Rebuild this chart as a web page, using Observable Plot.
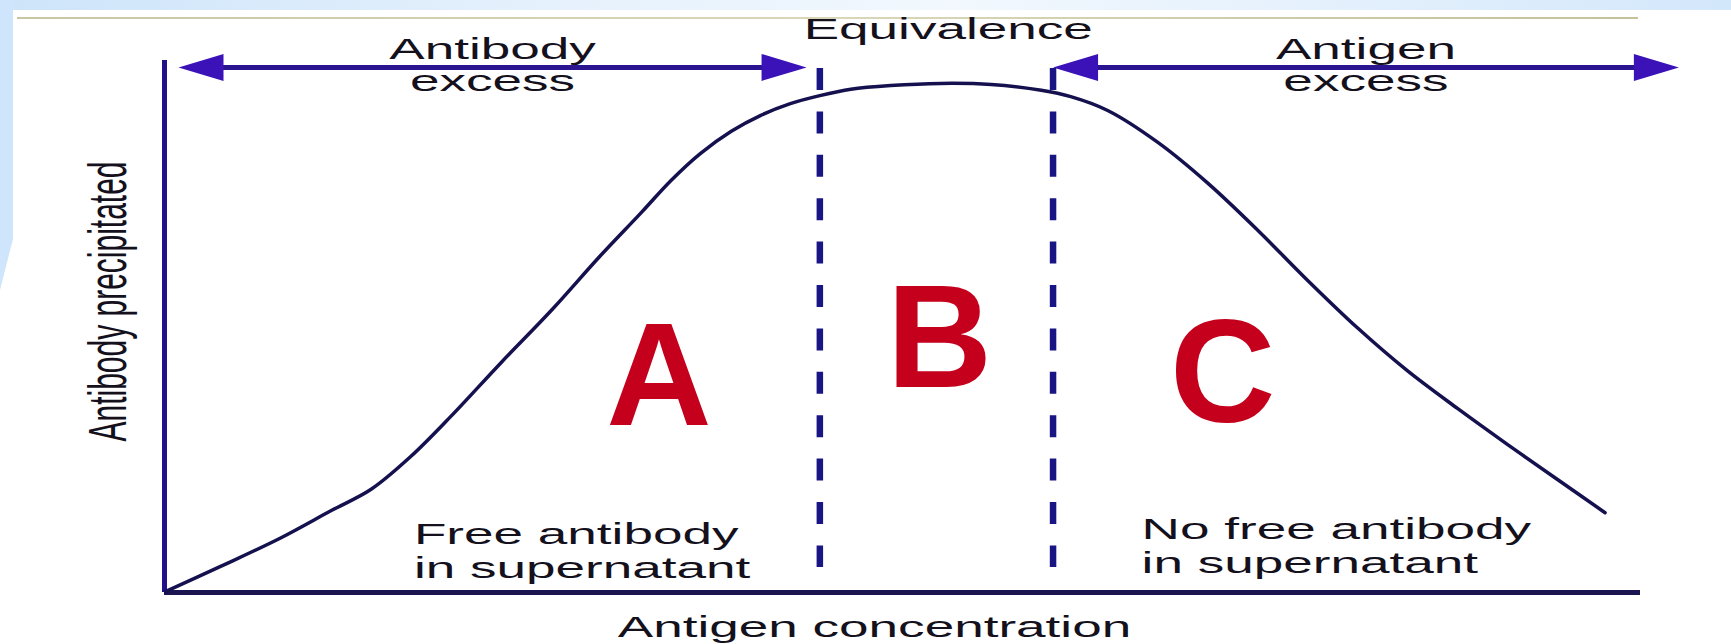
<!DOCTYPE html>
<html><head><meta charset="utf-8">
<script src="https://cdn.jsdelivr.net/npm/d3@7"></script>
<script src="https://cdn.jsdelivr.net/npm/@observablehq/plot@0.6"></script>
<style>
html,body{margin:0;padding:0;background:#fff;}
#wrap{position:relative;width:1731px;height:644px;overflow:hidden;background:#fff;}
.deco{position:absolute;}
#chart{position:absolute;left:0;top:0;}
</style></head><body>
<div id="wrap">
<div class="deco" style="left:0;top:0;width:1731px;height:10px;background:linear-gradient(to right,#cde4fa,#e4f0fc 30%,#f2f8fe 55%,#e2effc 80%,#d3e7fb)"></div>
<div class="deco" style="left:0;top:0;width:13px;height:290px;background:#cfe5fb;clip-path:polygon(0 0,100% 0,100% 239px,0 290px)"></div>
<div class="deco" style="left:17px;top:17px;width:1621px;height:2px;background:linear-gradient(to right,#c9c7a2,#d9d7b8 50%,#c4c29a)"></div>
<div id="chart"></div>
</div>
<script>
// ---- data ----
const antigen = [0.1, 3.8, 7.9, 11.3, 14.0, 16.7, 19.4, 22.8, 26.2, 29.5, 32.3, 34.3, 36.3, 38.4, 40.4, 42.4, 44.4, 46.5, 49.2, 52.6, 56.0, 59.4, 61.4, 63.9, 67.3, 70.7, 74.1, 77.4, 80.8, 84.2, 87.6, 91.0, 94.4, 97.6];
const precipitated = [0.2, 4.9, 10.3, 15.4, 19.4, 25.6, 33.1, 43.2, 53.0, 63.2, 71.4, 77.4, 82.5, 86.7, 89.7, 91.9, 93.4, 94.6, 95.3, 95.7, 95.5, 94.4, 93.2, 90.6, 84.6, 76.9, 68.0, 58.8, 49.8, 41.7, 34.6, 27.8, 21.2, 15.0];
const zoneLabels = ["Antibody\nexcess", "Antigen\nexcess"];
const zoneStart = [0.95, 60.2];
const zoneEnd = [43.5, 102.6];
const dividers = [44.4, 60.2];
const regionLetters = ["A", "B", "C"];
const notes = ["Free antibody\nin supernatant", "No free antibody\nin supernatant"];
const centerLabel = ["Equivalence"];
const xLabel = ["Antigen concentration"];
const yLabel = ["Antibody precipitated"];

// ---- layout (data units) ----
const regionX = [33.5, 52.5, 71.7];
const regionY = [31.5, 38.6, 32.0];
const noteX = [16.9, 66.2];
const noteY = [2.8, 3.6];
const arrowY = 98.7;

const curve = antigen.map((x, i) => ({x, y: precipitated[i]}));
const zones = zoneLabels.map((label, i) => ({label, start: zoneStart[i], end: zoneEnd[i]}));

const AXIS_Y = "#1f1187", AXIS_X = "#1a1450", CURVE = "#15114f", DASH = "#1a1585",
      ARROW = "#2a148f", HEAD = "#3a12b8", TEXT = "#14111d", RED = "#c4001c";
const FS = 30, SX = 1.77;

const headRight = {draw(ctx, size) { const r = Math.sqrt(size / Math.PI);
  ctx.moveTo(r, 0); ctx.lineTo(-r, -0.6 * r); ctx.lineTo(-r, 0.6 * r); ctx.closePath(); }};
const headLeft = {draw(ctx, size) { const r = Math.sqrt(size / Math.PI);
  ctx.moveTo(-r, 0); ctx.lineTo(r, -0.6 * r); ctx.lineTo(r, 0.6 * r); ctx.closePath(); }};

const svg = Plot.plot({
  width: 1731, height: 644,
  marginLeft: 164, marginRight: 91, marginTop: 60, marginBottom: 52,
  x: {domain: [0, 100], axis: null},
  y: {domain: [0, 100], axis: null},
  style: {fontFamily: "'Liberation Sans', Arial, sans-serif", background: "transparent", overflow: "visible"},
  marks: [
    Plot.ruleY([0], {x1: 0, x2: 100, stroke: AXIS_X, strokeWidth: 5}),
    Plot.ruleX([0], {y1: 0, y2: 100, stroke: AXIS_Y, strokeWidth: 5}),
    Plot.ruleX(dividers, {y1: 98.5, y2: 4.7, stroke: DASH, strokeWidth: 6.5, strokeDasharray: "22,21.4"}),
    Plot.line(curve, {x: "x", y: "y", curve: "catmull-rom", stroke: CURVE, strokeWidth: 3.5}),
    Plot.ruleY(zones, {x1: "start", x2: "end", y: arrowY, stroke: ARROW, strokeWidth: 5, insetLeft: 20, insetRight: 20}),
    Plot.dot(zones, {x: "start", y: arrowY, symbol: headLeft, r: 22.5, dx: 22.5, fill: HEAD, stroke: "none"}),
    Plot.dot(zones, {x: "end", y: arrowY, symbol: headRight, r: 22.5, dx: -22.5, fill: HEAD, stroke: "none"}),
    Plot.text(zones, {x: d => (d.start + d.end) / 2, y: 94.2, text: "label", lineAnchor: "bottom", lineHeight: 1.07, fontSize: FS, fill: TEXT}),
    Plot.text(centerLabel, {x: 53.1, y: 104.1, text: d => d, lineAnchor: "bottom", fontSize: FS, fill: TEXT}),
    Plot.text(notes, {x: (d, i) => noteX[i], y: (d, i) => noteY[i], text: d => d, textAnchor: "start", lineAnchor: "bottom", lineHeight: 1.13, fontSize: FS, fill: TEXT}),
    Plot.text(xLabel, {x: 48.1, y: -8.3, text: d => d, lineAnchor: "bottom", fontSize: FS, fill: TEXT}),
    Plot.text(yLabel, {x: -2.64, y: 54.7, text: d => d, rotate: -90, lineAnchor: "bottom", fontSize: FS, fill: TEXT}),
    Plot.text(regionLetters, {x: (d, i) => regionX[i], y: (d, i) => regionY[i], text: d => d, lineAnchor: "bottom", fontSize: 146, fontWeight: "bold", fill: RED})
  ]
});

// stretch the diagram's labels horizontally, like the original picture
svg.querySelectorAll("g[font-size] text").forEach(t => {
  const g = t.closest("g[font-size]");
  if (!g || g.getAttribute("font-size") !== String(FS)) return;
  const tr = t.getAttribute("transform") || "";
  const m = tr.match(/^\s*translate\([^)]*\)/);
  if (m) t.setAttribute("transform", m[0] + ` scale(${SX},1)` + tr.slice(m[0].length));
  else {
    const x = +t.getAttribute("x") || 0, y = +t.getAttribute("y") || 0;
    t.setAttribute("transform", `translate(${x},${y}) scale(${SX},1) translate(${-x},${-y})` + tr);
  }
});
document.getElementById("chart").appendChild(svg);
</script>
</body></html>
